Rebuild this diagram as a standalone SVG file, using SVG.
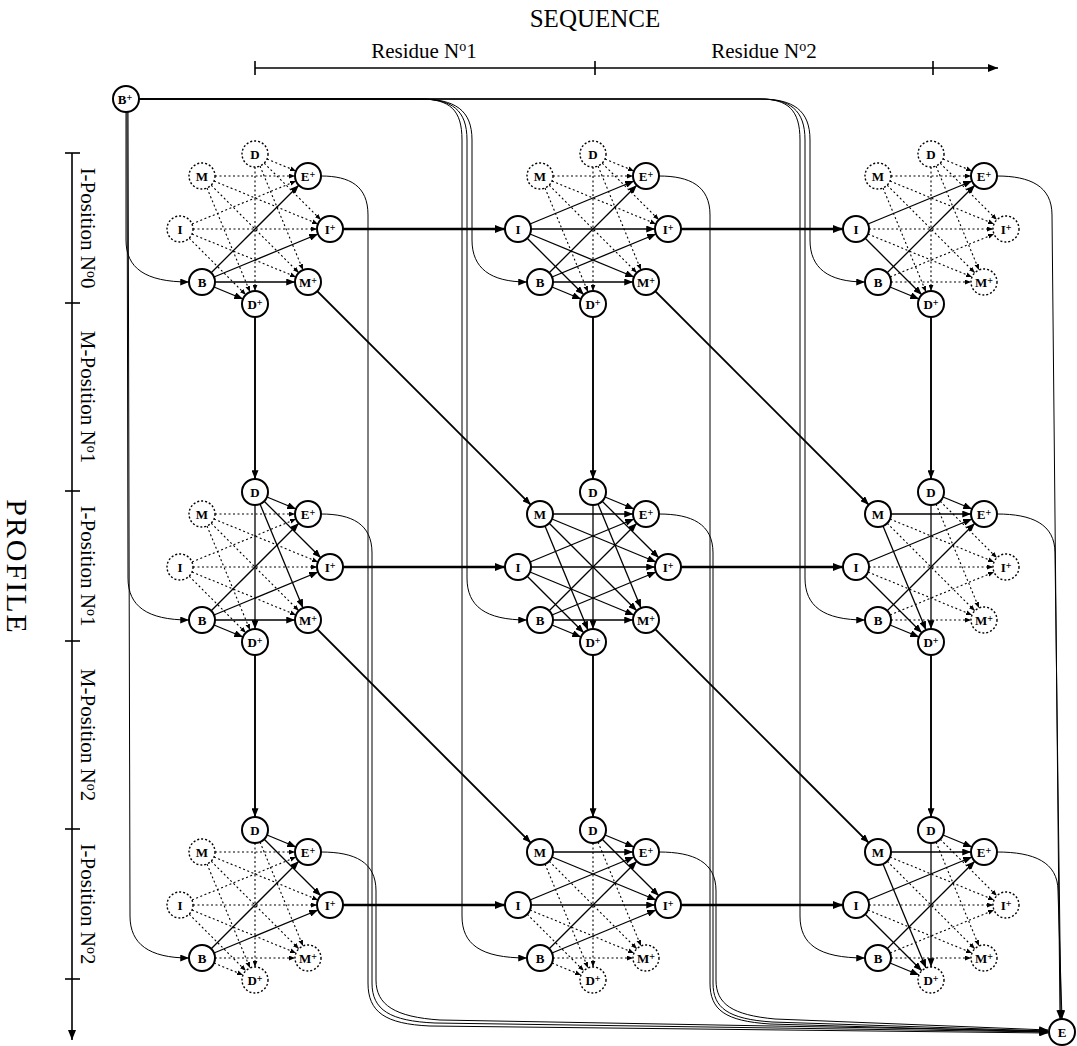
<svg xmlns="http://www.w3.org/2000/svg" width="1077" height="1046" viewBox="0 0 1077 1046">
<style>
.s{stroke:#000;stroke-width:1.3;fill:none;marker-end:url(#ah)}
.d{stroke:#000;stroke-width:1.1;fill:none;stroke-dasharray:2 2.5;marker-end:url(#ahs)}
.t{stroke:#000;stroke-width:2.3;fill:none;marker-end:url(#ahb)}
.v{stroke:#000;stroke-width:1.9;fill:none;marker-end:url(#ah)}
.f{stroke:#000;stroke-width:1;fill:none;marker-end:url(#ah)}
.ax{stroke:#000;stroke-width:1.6;fill:none}
.ns circle{fill:#fff;stroke:#000;stroke-width:2}
.nd circle{fill:#fff;stroke:#000;stroke-width:1.4;stroke-dasharray:2 2}
.l{font-family:'Liberation Serif',serif;font-weight:bold;font-size:13px;text-anchor:middle}
.u{font-size:10px}
.lab{font-family:'Liberation Serif',serif;font-size:21px;text-anchor:middle}
.big{font-family:'Liberation Serif',serif;font-size:25px;text-anchor:middle}
.pro{font-family:'Liberation Serif',serif;font-size:30px;letter-spacing:2px;text-anchor:middle}
.sp{font-size:14px}
</style>
<defs>
<marker id="ah" viewBox="0 0 10 8" refX="10" refY="4" markerWidth="9" markerHeight="7" markerUnits="userSpaceOnUse" orient="auto"><path d="M0,0 L10,4 L0,8 z"/></marker>
<marker id="ahs" viewBox="0 0 10 8" refX="10" refY="4" markerWidth="6" markerHeight="5" markerUnits="userSpaceOnUse" orient="auto"><path d="M0,0 L10,4 L0,8 z"/></marker>
<marker id="ahb" viewBox="0 0 10 8" refX="10" refY="4" markerWidth="11" markerHeight="8" markerUnits="userSpaceOnUse" orient="auto"><path d="M0,0 L10,4 L0,8 z"/></marker>
</defs>
<rect width="1077" height="1046" fill="#fff"/>

<g id="axes">
<text class="big" x="595" y="27">SEQUENCE</text>
<text class="lab" x="424" y="58">Residue N<tspan class="sp" dy="-7">o</tspan><tspan dy="7">1</tspan></text>
<text class="lab" x="764" y="58">Residue N<tspan class="sp" dy="-7">o</tspan><tspan dy="7">2</tspan></text>
<line class="ax" x1="255" y1="68" x2="998" y2="68" marker-end="url(#ahb)"/>
<line class="ax" x1="255" y1="61" x2="255" y2="75"/>
<line class="ax" x1="595" y1="61" x2="595" y2="75"/>
<line class="ax" x1="933" y1="61" x2="933" y2="75"/>
<text class="pro" transform="translate(7,567) rotate(90)">PROFILE</text>
<line class="ax" x1="72" y1="153" x2="72" y2="1040" marker-end="url(#ahb)"/>
<line class="ax" x1="65" y1="153" x2="80" y2="153"/>
<line class="ax" x1="65" y1="303" x2="80" y2="303"/>
<line class="ax" x1="65" y1="491" x2="80" y2="491"/>
<line class="ax" x1="65" y1="641" x2="80" y2="641"/>
<line class="ax" x1="65" y1="829" x2="80" y2="829"/>
<line class="ax" x1="65" y1="979" x2="80" y2="979"/>
<text class="lab" transform="translate(81,228) rotate(90)">I-Position N<tspan class="sp" dy="-6">o</tspan><tspan dy="6">0</tspan></text>
<text class="lab" transform="translate(81,397) rotate(90)">M-Position N<tspan class="sp" dy="-6">o</tspan><tspan dy="6">1</tspan></text>
<text class="lab" transform="translate(81,566) rotate(90)">I-Position N<tspan class="sp" dy="-6">o</tspan><tspan dy="6">1</tspan></text>
<text class="lab" transform="translate(81,735) rotate(90)">M-Position N<tspan class="sp" dy="-6">o</tspan><tspan dy="6">2</tspan></text>
<text class="lab" transform="translate(81,904) rotate(90)">I-Position N<tspan class="sp" dy="-6">o</tspan><tspan dy="6">2</tspan></text>
</g>

<g id="connectors">
<!-- B+ to B -->
<path class="f" d="M126,112 L126,240 C126,268 145,282 189,282"/>
<path class="f" d="M127,112 L128,578 C128,606 147,620 189,620"/>
<path class="f" d="M128,112 L130,916 C130,944 149,958 189,958"/>
<path class="f" d="M139,99 L420,99 C455,99 472,110 472,140 L472,240 C472,268 490,282 527,282"/>
<path class="f" d="M139,99 L420,99 C452,99 467,110 467,140 L467,578 C467,606 485,620 527,620"/>
<path class="f" d="M139,99 L420,99 C450,99 462,110 462,140 L462,916 C462,944 480,958 527,958"/>
<path class="f" d="M139,99 L760,99 C793,99 810,110 810,140 L810,240 C810,268 828,282 865,282"/>
<path class="f" d="M139,99 L760,99 C790,99 805,110 805,140 L805,578 C805,606 823,620 865,620"/>
<path class="f" d="M139,99 L760,99 C788,99 800,110 800,140 L800,916 C800,944 818,958 865,958"/>
<!-- E+ to E -->
<path class="f" d="M321,176 C350,176 368,186 368,215 L368,983 C368,1012 385,1024 430,1026 L1048,1033"/>
<path class="f" d="M321,514 C352,514 372,524 372,553 L372,983 C372,1010 390,1021 435,1023 L1048,1032"/>
<path class="f" d="M321,852 C355,852 376,862 376,891 L376,980 C376,1005 395,1017 440,1020 L1048,1031"/>
<path class="f" d="M659,176 C690,176 710,186 710,215 L710,983 C710,1010 725,1021 770,1024 L1048,1032"/>
<path class="f" d="M659,514 C692,514 713,524 713,553 L713,983 C713,1008 728,1019 772,1022 L1048,1031"/>
<path class="f" d="M659,852 C694,852 716,862 716,891 L716,980 C716,1004 732,1015 775,1019 L1048,1030"/>
<path class="f" d="M997,176 C1030,176 1052,186 1052,215 L1060,1019"/>
<path class="f" d="M997,514 C1032,514 1055,524 1055,553 L1061,1019"/>
<path class="f" d="M997,852 C1034,852 1058,862 1058,891 L1062,1019"/>
<!-- I+ to I -->
<line class="t" x1="343" y1="229" x2="505" y2="229"/>
<line class="t" x1="681" y1="229" x2="843" y2="229"/>
<line class="t" x1="343" y1="567" x2="505" y2="567"/>
<line class="t" x1="681" y1="567" x2="843" y2="567"/>
<line class="t" x1="343" y1="905" x2="505" y2="905"/>
<line class="t" x1="681" y1="905" x2="843" y2="905"/>
<!-- M+ to M -->
<line class="v" x1="317.2" y1="291.2" x2="530.8" y2="504.8"/>
<line class="v" x1="655.2" y1="291.2" x2="868.8" y2="504.8"/>
<line class="v" x1="317.2" y1="629.2" x2="530.8" y2="842.8"/>
<line class="v" x1="655.2" y1="629.2" x2="868.8" y2="842.8"/>
<!-- D+ to D -->
<line class="v" x1="255" y1="317" x2="255" y2="479"/>
<line class="v" x1="593" y1="317" x2="593" y2="479"/>
<line class="v" x1="931" y1="317" x2="931" y2="479"/>
<line class="v" x1="255" y1="655" x2="255" y2="817"/>
<line class="v" x1="593" y1="655" x2="593" y2="817"/>
<line class="v" x1="931" y1="655" x2="931" y2="817"/>

<!-- cell 0,0 -->
<g transform="translate(255,229)">
<line class="d" x1="12" y1="-70" x2="41" y2="-58"/>
<line class="d" x1="9.2" y1="-65.8" x2="65.8" y2="-9.2"/>
<line class="d" x1="5" y1="-63" x2="48" y2="41"/>
<line class="d" x1="0" y1="-62" x2="0" y2="62"/>
<line class="d" x1="-40" y1="-53" x2="40" y2="-53"/>
<line class="d" x1="-41" y1="-48" x2="63" y2="-5"/>
<line class="d" x1="-43.8" y1="-43.8" x2="43.8" y2="43.8"/>
<line class="d" x1="-48" y1="-41" x2="-5" y2="63"/>
<line class="d" x1="-63" y1="-5" x2="41" y2="-48"/>
<line class="d" x1="-62" y1="0" x2="62" y2="0"/>
<line class="d" x1="-63" y1="5" x2="41" y2="48"/>
<line class="d" x1="-65.8" y1="9.2" x2="-9.2" y2="65.8"/>
<line class="s" x1="-43.8" y1="43.8" x2="43.8" y2="-43.8"/>
<line class="s" x1="-41" y1="48" x2="63" y2="5"/>
<line class="s" x1="-40" y1="53" x2="40" y2="53"/>
<line class="s" x1="-41" y1="58" x2="-12" y2="70"/>
</g>
<!-- cell 0,1 -->
<g transform="translate(593,229)">
<line class="d" x1="12" y1="-70" x2="41" y2="-58"/>
<line class="d" x1="9.2" y1="-65.8" x2="65.8" y2="-9.2"/>
<line class="d" x1="5" y1="-63" x2="48" y2="41"/>
<line class="d" x1="0" y1="-62" x2="0" y2="62"/>
<line class="d" x1="-40" y1="-53" x2="40" y2="-53"/>
<line class="d" x1="-41" y1="-48" x2="63" y2="-5"/>
<line class="d" x1="-43.8" y1="-43.8" x2="43.8" y2="43.8"/>
<line class="d" x1="-48" y1="-41" x2="-5" y2="63"/>
<line class="s" x1="-63" y1="-5" x2="41" y2="-48"/>
<line class="s" x1="-62" y1="0" x2="62" y2="0"/>
<line class="s" x1="-63" y1="5" x2="41" y2="48"/>
<line class="s" x1="-65.8" y1="9.2" x2="-9.2" y2="65.8"/>
<line class="s" x1="-43.8" y1="43.8" x2="43.8" y2="-43.8"/>
<line class="s" x1="-41" y1="48" x2="63" y2="5"/>
<line class="s" x1="-40" y1="53" x2="40" y2="53"/>
<line class="s" x1="-41" y1="58" x2="-12" y2="70"/>
</g>
<!-- cell 0,2 -->
<g transform="translate(931,229)">
<line class="d" x1="12" y1="-70" x2="41" y2="-58"/>
<line class="d" x1="9.2" y1="-65.8" x2="65.8" y2="-9.2"/>
<line class="d" x1="5" y1="-63" x2="48" y2="41"/>
<line class="d" x1="0" y1="-62" x2="0" y2="62"/>
<line class="d" x1="-40" y1="-53" x2="40" y2="-53"/>
<line class="d" x1="-41" y1="-48" x2="63" y2="-5"/>
<line class="d" x1="-43.8" y1="-43.8" x2="43.8" y2="43.8"/>
<line class="d" x1="-48" y1="-41" x2="-5" y2="63"/>
<line class="d" x1="-62" y1="0" x2="62" y2="0"/>
<line class="d" x1="-63" y1="5" x2="41" y2="48"/>
<line class="d" x1="-41" y1="48" x2="63" y2="5"/>
<line class="d" x1="-40" y1="53" x2="40" y2="53"/>
<line class="s" x1="-63" y1="-5" x2="41" y2="-48"/>
<line class="s" x1="-65.8" y1="9.2" x2="-9.2" y2="65.8"/>
<line class="s" x1="-43.8" y1="43.8" x2="43.8" y2="-43.8"/>
<line class="s" x1="-41" y1="58" x2="-12" y2="70"/>
</g>
<!-- cell 1,0 -->
<g transform="translate(255,567)">
<line class="d" x1="-40" y1="-53" x2="40" y2="-53"/>
<line class="d" x1="-41" y1="-48" x2="63" y2="-5"/>
<line class="d" x1="-43.8" y1="-43.8" x2="43.8" y2="43.8"/>
<line class="d" x1="-48" y1="-41" x2="-5" y2="63"/>
<line class="d" x1="-63" y1="-5" x2="41" y2="-48"/>
<line class="d" x1="-62" y1="0" x2="62" y2="0"/>
<line class="d" x1="-63" y1="5" x2="41" y2="48"/>
<line class="d" x1="-65.8" y1="9.2" x2="-9.2" y2="65.8"/>
<line class="s" x1="12" y1="-70" x2="41" y2="-58"/>
<line class="s" x1="9.2" y1="-65.8" x2="65.8" y2="-9.2"/>
<line class="s" x1="5" y1="-63" x2="48" y2="41"/>
<line class="s" x1="0" y1="-62" x2="0" y2="62"/>
<line class="s" x1="-43.8" y1="43.8" x2="43.8" y2="-43.8"/>
<line class="s" x1="-41" y1="48" x2="63" y2="5"/>
<line class="s" x1="-40" y1="53" x2="40" y2="53"/>
<line class="s" x1="-41" y1="58" x2="-12" y2="70"/>
</g>
<!-- cell 1,1 -->
<g transform="translate(593,567)">
<line class="s" x1="12" y1="-70" x2="41" y2="-58"/>
<line class="s" x1="9.2" y1="-65.8" x2="65.8" y2="-9.2"/>
<line class="s" x1="5" y1="-63" x2="48" y2="41"/>
<line class="s" x1="0" y1="-62" x2="0" y2="62"/>
<line class="s" x1="-40" y1="-53" x2="40" y2="-53"/>
<line class="s" x1="-41" y1="-48" x2="63" y2="-5"/>
<line class="s" x1="-43.8" y1="-43.8" x2="43.8" y2="43.8"/>
<line class="s" x1="-48" y1="-41" x2="-5" y2="63"/>
<line class="s" x1="-63" y1="-5" x2="41" y2="-48"/>
<line class="s" x1="-62" y1="0" x2="62" y2="0"/>
<line class="s" x1="-63" y1="5" x2="41" y2="48"/>
<line class="s" x1="-65.8" y1="9.2" x2="-9.2" y2="65.8"/>
<line class="s" x1="-43.8" y1="43.8" x2="43.8" y2="-43.8"/>
<line class="s" x1="-41" y1="48" x2="63" y2="5"/>
<line class="s" x1="-40" y1="53" x2="40" y2="53"/>
<line class="s" x1="-41" y1="58" x2="-12" y2="70"/>
</g>
<!-- cell 1,2 -->
<g transform="translate(931,567)">
<line class="d" x1="9.2" y1="-65.8" x2="65.8" y2="-9.2"/>
<line class="d" x1="5" y1="-63" x2="48" y2="41"/>
<line class="d" x1="-41" y1="-48" x2="63" y2="-5"/>
<line class="d" x1="-43.8" y1="-43.8" x2="43.8" y2="43.8"/>
<line class="d" x1="-62" y1="0" x2="62" y2="0"/>
<line class="d" x1="-63" y1="5" x2="41" y2="48"/>
<line class="d" x1="-41" y1="48" x2="63" y2="5"/>
<line class="d" x1="-40" y1="53" x2="40" y2="53"/>
<line class="s" x1="12" y1="-70" x2="41" y2="-58"/>
<line class="s" x1="0" y1="-62" x2="0" y2="62"/>
<line class="s" x1="-40" y1="-53" x2="40" y2="-53"/>
<line class="s" x1="-48" y1="-41" x2="-5" y2="63"/>
<line class="s" x1="-63" y1="-5" x2="41" y2="-48"/>
<line class="s" x1="-65.8" y1="9.2" x2="-9.2" y2="65.8"/>
<line class="s" x1="-43.8" y1="43.8" x2="43.8" y2="-43.8"/>
<line class="s" x1="-41" y1="58" x2="-12" y2="70"/>
</g>
<!-- cell 2,0 -->
<g transform="translate(255,905)">
<line class="d" x1="5" y1="-63" x2="48" y2="41"/>
<line class="d" x1="0" y1="-62" x2="0" y2="62"/>
<line class="d" x1="-40" y1="-53" x2="40" y2="-53"/>
<line class="d" x1="-41" y1="-48" x2="63" y2="-5"/>
<line class="d" x1="-43.8" y1="-43.8" x2="43.8" y2="43.8"/>
<line class="d" x1="-48" y1="-41" x2="-5" y2="63"/>
<line class="d" x1="-63" y1="-5" x2="41" y2="-48"/>
<line class="d" x1="-62" y1="0" x2="62" y2="0"/>
<line class="d" x1="-63" y1="5" x2="41" y2="48"/>
<line class="d" x1="-65.8" y1="9.2" x2="-9.2" y2="65.8"/>
<line class="d" x1="-40" y1="53" x2="40" y2="53"/>
<line class="d" x1="-41" y1="58" x2="-12" y2="70"/>
<line class="s" x1="12" y1="-70" x2="41" y2="-58"/>
<line class="s" x1="9.2" y1="-65.8" x2="65.8" y2="-9.2"/>
<line class="s" x1="-43.8" y1="43.8" x2="43.8" y2="-43.8"/>
<line class="s" x1="-41" y1="48" x2="63" y2="5"/>
</g>
<!-- cell 2,1 -->
<g transform="translate(593,905)">
<line class="d" x1="5" y1="-63" x2="48" y2="41"/>
<line class="d" x1="0" y1="-62" x2="0" y2="62"/>
<line class="d" x1="-43.8" y1="-43.8" x2="43.8" y2="43.8"/>
<line class="d" x1="-48" y1="-41" x2="-5" y2="63"/>
<line class="d" x1="-63" y1="5" x2="41" y2="48"/>
<line class="d" x1="-65.8" y1="9.2" x2="-9.2" y2="65.8"/>
<line class="d" x1="-40" y1="53" x2="40" y2="53"/>
<line class="d" x1="-41" y1="58" x2="-12" y2="70"/>
<line class="s" x1="12" y1="-70" x2="41" y2="-58"/>
<line class="s" x1="9.2" y1="-65.8" x2="65.8" y2="-9.2"/>
<line class="s" x1="-40" y1="-53" x2="40" y2="-53"/>
<line class="s" x1="-41" y1="-48" x2="63" y2="-5"/>
<line class="s" x1="-63" y1="-5" x2="41" y2="-48"/>
<line class="s" x1="-62" y1="0" x2="62" y2="0"/>
<line class="s" x1="-43.8" y1="43.8" x2="43.8" y2="-43.8"/>
<line class="s" x1="-41" y1="48" x2="63" y2="5"/>
</g>
<!-- cell 2,2 -->
<g transform="translate(931,905)">
<line class="d" x1="9.2" y1="-65.8" x2="65.8" y2="-9.2"/>
<line class="d" x1="5" y1="-63" x2="48" y2="41"/>
<line class="d" x1="-41" y1="-48" x2="63" y2="-5"/>
<line class="d" x1="-43.8" y1="-43.8" x2="43.8" y2="43.8"/>
<line class="d" x1="-62" y1="0" x2="62" y2="0"/>
<line class="d" x1="-63" y1="5" x2="41" y2="48"/>
<line class="d" x1="-41" y1="48" x2="63" y2="5"/>
<line class="d" x1="-40" y1="53" x2="40" y2="53"/>
<line class="s" x1="12" y1="-70" x2="41" y2="-58"/>
<line class="s" x1="0" y1="-62" x2="0" y2="62"/>
<line class="s" x1="-40" y1="-53" x2="40" y2="-53"/>
<line class="s" x1="-48" y1="-41" x2="-5" y2="63"/>
<line class="s" x1="-63" y1="-5" x2="41" y2="-48"/>
<line class="s" x1="-65.8" y1="9.2" x2="-9.2" y2="65.8"/>
<line class="s" x1="-43.8" y1="43.8" x2="43.8" y2="-43.8"/>
<line class="s" x1="-41" y1="58" x2="-12" y2="70"/>
</g>
</g>

<g id="nodes">
<g id="Bplus" class="ns"><circle cx="126" cy="99" r="13"/><text class="l" x="125" y="103.5">B<tspan class="u" dy="-3">+</tspan></text></g>
<g id="E" class="ns"><circle cx="1062" cy="1032" r="13"/><text class="l" x="1062" y="1036.5">E</text></g>

<g transform="translate(255,229)">
<g id="r0c0-D" class="nd" transform="translate(0,-75)"><circle r="13"/><text class="l" y="4.5">D</text></g>
<g id="r0c0-M" class="nd" transform="translate(-53,-53)"><circle r="13"/><text class="l" y="4.5">M</text></g>
<g id="r0c0-I" class="nd" transform="translate(-75,0)"><circle r="13"/><text class="l" y="4.5">I</text></g>
<g id="r0c0-B" class="ns" transform="translate(-53,53)"><circle r="13"/><text class="l" y="4.5">B</text></g>
<g id="r0c0-Ep" class="ns" transform="translate(53,-53)"><circle r="13"/><text class="l" y="4.5">E<tspan class="u" dy="-3">+</tspan></text></g>
<g id="r0c0-Ip" class="ns" transform="translate(75,0)"><circle r="13"/><text class="l" y="4.5">I<tspan class="u" dy="-3">+</tspan></text></g>
<g id="r0c0-Mp" class="ns" transform="translate(53,53)"><circle r="13"/><text class="l" y="4.5">M<tspan class="u" dy="-3">+</tspan></text></g>
<g id="r0c0-Dp" class="ns" transform="translate(0,75)"><circle r="13"/><text class="l" y="4.5">D<tspan class="u" dy="-3">+</tspan></text></g>
</g>
<g transform="translate(593,229)">
<g id="r0c1-D" class="nd" transform="translate(0,-75)"><circle r="13"/><text class="l" y="4.5">D</text></g>
<g id="r0c1-M" class="nd" transform="translate(-53,-53)"><circle r="13"/><text class="l" y="4.5">M</text></g>
<g id="r0c1-I" class="ns" transform="translate(-75,0)"><circle r="13"/><text class="l" y="4.5">I</text></g>
<g id="r0c1-B" class="ns" transform="translate(-53,53)"><circle r="13"/><text class="l" y="4.5">B</text></g>
<g id="r0c1-Ep" class="ns" transform="translate(53,-53)"><circle r="13"/><text class="l" y="4.5">E<tspan class="u" dy="-3">+</tspan></text></g>
<g id="r0c1-Ip" class="ns" transform="translate(75,0)"><circle r="13"/><text class="l" y="4.5">I<tspan class="u" dy="-3">+</tspan></text></g>
<g id="r0c1-Mp" class="ns" transform="translate(53,53)"><circle r="13"/><text class="l" y="4.5">M<tspan class="u" dy="-3">+</tspan></text></g>
<g id="r0c1-Dp" class="ns" transform="translate(0,75)"><circle r="13"/><text class="l" y="4.5">D<tspan class="u" dy="-3">+</tspan></text></g>
</g>
<g transform="translate(931,229)">
<g id="r0c2-D" class="nd" transform="translate(0,-75)"><circle r="13"/><text class="l" y="4.5">D</text></g>
<g id="r0c2-M" class="nd" transform="translate(-53,-53)"><circle r="13"/><text class="l" y="4.5">M</text></g>
<g id="r0c2-I" class="ns" transform="translate(-75,0)"><circle r="13"/><text class="l" y="4.5">I</text></g>
<g id="r0c2-B" class="ns" transform="translate(-53,53)"><circle r="13"/><text class="l" y="4.5">B</text></g>
<g id="r0c2-Ep" class="ns" transform="translate(53,-53)"><circle r="13"/><text class="l" y="4.5">E<tspan class="u" dy="-3">+</tspan></text></g>
<g id="r0c2-Ip" class="nd" transform="translate(75,0)"><circle r="13"/><text class="l" y="4.5">I<tspan class="u" dy="-3">+</tspan></text></g>
<g id="r0c2-Mp" class="nd" transform="translate(53,53)"><circle r="13"/><text class="l" y="4.5">M<tspan class="u" dy="-3">+</tspan></text></g>
<g id="r0c2-Dp" class="ns" transform="translate(0,75)"><circle r="13"/><text class="l" y="4.5">D<tspan class="u" dy="-3">+</tspan></text></g>
</g>
<g transform="translate(255,567)">
<g id="r1c0-D" class="ns" transform="translate(0,-75)"><circle r="13"/><text class="l" y="4.5">D</text></g>
<g id="r1c0-M" class="nd" transform="translate(-53,-53)"><circle r="13"/><text class="l" y="4.5">M</text></g>
<g id="r1c0-I" class="nd" transform="translate(-75,0)"><circle r="13"/><text class="l" y="4.5">I</text></g>
<g id="r1c0-B" class="ns" transform="translate(-53,53)"><circle r="13"/><text class="l" y="4.5">B</text></g>
<g id="r1c0-Ep" class="ns" transform="translate(53,-53)"><circle r="13"/><text class="l" y="4.5">E<tspan class="u" dy="-3">+</tspan></text></g>
<g id="r1c0-Ip" class="ns" transform="translate(75,0)"><circle r="13"/><text class="l" y="4.5">I<tspan class="u" dy="-3">+</tspan></text></g>
<g id="r1c0-Mp" class="ns" transform="translate(53,53)"><circle r="13"/><text class="l" y="4.5">M<tspan class="u" dy="-3">+</tspan></text></g>
<g id="r1c0-Dp" class="ns" transform="translate(0,75)"><circle r="13"/><text class="l" y="4.5">D<tspan class="u" dy="-3">+</tspan></text></g>
</g>
<g transform="translate(593,567)">
<g id="r1c1-D" class="ns" transform="translate(0,-75)"><circle r="13"/><text class="l" y="4.5">D</text></g>
<g id="r1c1-M" class="ns" transform="translate(-53,-53)"><circle r="13"/><text class="l" y="4.5">M</text></g>
<g id="r1c1-I" class="ns" transform="translate(-75,0)"><circle r="13"/><text class="l" y="4.5">I</text></g>
<g id="r1c1-B" class="ns" transform="translate(-53,53)"><circle r="13"/><text class="l" y="4.5">B</text></g>
<g id="r1c1-Ep" class="ns" transform="translate(53,-53)"><circle r="13"/><text class="l" y="4.5">E<tspan class="u" dy="-3">+</tspan></text></g>
<g id="r1c1-Ip" class="ns" transform="translate(75,0)"><circle r="13"/><text class="l" y="4.5">I<tspan class="u" dy="-3">+</tspan></text></g>
<g id="r1c1-Mp" class="ns" transform="translate(53,53)"><circle r="13"/><text class="l" y="4.5">M<tspan class="u" dy="-3">+</tspan></text></g>
<g id="r1c1-Dp" class="ns" transform="translate(0,75)"><circle r="13"/><text class="l" y="4.5">D<tspan class="u" dy="-3">+</tspan></text></g>
</g>
<g transform="translate(931,567)">
<g id="r1c2-D" class="ns" transform="translate(0,-75)"><circle r="13"/><text class="l" y="4.5">D</text></g>
<g id="r1c2-M" class="ns" transform="translate(-53,-53)"><circle r="13"/><text class="l" y="4.5">M</text></g>
<g id="r1c2-I" class="ns" transform="translate(-75,0)"><circle r="13"/><text class="l" y="4.5">I</text></g>
<g id="r1c2-B" class="ns" transform="translate(-53,53)"><circle r="13"/><text class="l" y="4.5">B</text></g>
<g id="r1c2-Ep" class="ns" transform="translate(53,-53)"><circle r="13"/><text class="l" y="4.5">E<tspan class="u" dy="-3">+</tspan></text></g>
<g id="r1c2-Ip" class="nd" transform="translate(75,0)"><circle r="13"/><text class="l" y="4.5">I<tspan class="u" dy="-3">+</tspan></text></g>
<g id="r1c2-Mp" class="nd" transform="translate(53,53)"><circle r="13"/><text class="l" y="4.5">M<tspan class="u" dy="-3">+</tspan></text></g>
<g id="r1c2-Dp" class="ns" transform="translate(0,75)"><circle r="13"/><text class="l" y="4.5">D<tspan class="u" dy="-3">+</tspan></text></g>
</g>
<g transform="translate(255,905)">
<g id="r2c0-D" class="ns" transform="translate(0,-75)"><circle r="13"/><text class="l" y="4.5">D</text></g>
<g id="r2c0-M" class="nd" transform="translate(-53,-53)"><circle r="13"/><text class="l" y="4.5">M</text></g>
<g id="r2c0-I" class="nd" transform="translate(-75,0)"><circle r="13"/><text class="l" y="4.5">I</text></g>
<g id="r2c0-B" class="ns" transform="translate(-53,53)"><circle r="13"/><text class="l" y="4.5">B</text></g>
<g id="r2c0-Ep" class="ns" transform="translate(53,-53)"><circle r="13"/><text class="l" y="4.5">E<tspan class="u" dy="-3">+</tspan></text></g>
<g id="r2c0-Ip" class="ns" transform="translate(75,0)"><circle r="13"/><text class="l" y="4.5">I<tspan class="u" dy="-3">+</tspan></text></g>
<g id="r2c0-Mp" class="nd" transform="translate(53,53)"><circle r="13"/><text class="l" y="4.5">M<tspan class="u" dy="-3">+</tspan></text></g>
<g id="r2c0-Dp" class="nd" transform="translate(0,75)"><circle r="13"/><text class="l" y="4.5">D<tspan class="u" dy="-3">+</tspan></text></g>
</g>
<g transform="translate(593,905)">
<g id="r2c1-D" class="ns" transform="translate(0,-75)"><circle r="13"/><text class="l" y="4.5">D</text></g>
<g id="r2c1-M" class="ns" transform="translate(-53,-53)"><circle r="13"/><text class="l" y="4.5">M</text></g>
<g id="r2c1-I" class="ns" transform="translate(-75,0)"><circle r="13"/><text class="l" y="4.5">I</text></g>
<g id="r2c1-B" class="ns" transform="translate(-53,53)"><circle r="13"/><text class="l" y="4.5">B</text></g>
<g id="r2c1-Ep" class="ns" transform="translate(53,-53)"><circle r="13"/><text class="l" y="4.5">E<tspan class="u" dy="-3">+</tspan></text></g>
<g id="r2c1-Ip" class="ns" transform="translate(75,0)"><circle r="13"/><text class="l" y="4.5">I<tspan class="u" dy="-3">+</tspan></text></g>
<g id="r2c1-Mp" class="nd" transform="translate(53,53)"><circle r="13"/><text class="l" y="4.5">M<tspan class="u" dy="-3">+</tspan></text></g>
<g id="r2c1-Dp" class="nd" transform="translate(0,75)"><circle r="13"/><text class="l" y="4.5">D<tspan class="u" dy="-3">+</tspan></text></g>
</g>
<g transform="translate(931,905)">
<g id="r2c2-D" class="ns" transform="translate(0,-75)"><circle r="13"/><text class="l" y="4.5">D</text></g>
<g id="r2c2-M" class="ns" transform="translate(-53,-53)"><circle r="13"/><text class="l" y="4.5">M</text></g>
<g id="r2c2-I" class="ns" transform="translate(-75,0)"><circle r="13"/><text class="l" y="4.5">I</text></g>
<g id="r2c2-B" class="ns" transform="translate(-53,53)"><circle r="13"/><text class="l" y="4.5">B</text></g>
<g id="r2c2-Ep" class="ns" transform="translate(53,-53)"><circle r="13"/><text class="l" y="4.5">E<tspan class="u" dy="-3">+</tspan></text></g>
<g id="r2c2-Ip" class="nd" transform="translate(75,0)"><circle r="13"/><text class="l" y="4.5">I<tspan class="u" dy="-3">+</tspan></text></g>
<g id="r2c2-Mp" class="nd" transform="translate(53,53)"><circle r="13"/><text class="l" y="4.5">M<tspan class="u" dy="-3">+</tspan></text></g>
<g id="r2c2-Dp" class="nd" transform="translate(0,75)"><circle r="13"/><text class="l" y="4.5">D<tspan class="u" dy="-3">+</tspan></text></g>
</g>
</g>
</svg>
